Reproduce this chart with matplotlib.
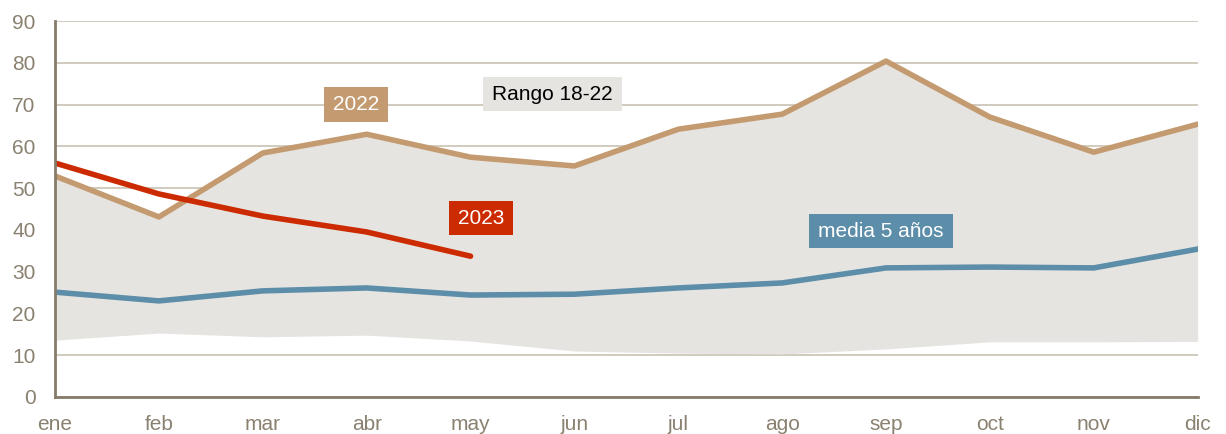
import matplotlib
matplotlib.use("Agg")
import matplotlib.pyplot as plt
from matplotlib.path import Path

plt.rcParams['font.family'] = ['Liberation Sans', 'DejaVu Sans']

months = ["ene", "feb", "mar", "abr", "may", "jun", "jul", "ago", "sep", "oct", "nov", "dic"]
range_low = [13.6, 15.3, 14.4, 14.8, 13.4, 11.0, 10.5, 10.3, 11.5, 13.2, 13.2, 13.3]
range_high = [52.9, 43.1, 58.4, 62.9, 57.4, 55.3, 64.1, 67.7, 80.4, 67.0, 58.6, 65.3]
y2022 = [52.9, 43.1, 58.4, 62.9, 57.4, 55.3, 64.1, 67.7, 80.4, 67.0, 58.6, 65.3]
y2023 = [56.0, 48.6, 43.3, 39.5, 33.7]
media5 = [25.1, 23.0, 25.4, 26.1, 24.4, 24.6, 26.1, 27.3, 30.9, 31.1, 30.9, 35.4]
yticks = [0, 10, 20, 30, 40, 50, 60, 70, 80, 90]

c_fill = "#E6E4E0"
c_2022 = "#C49B70"
c_2023 = "#CC2A00"
c_media = "#5C8DA9"
c_axis = "#857B69"
c_grid = "#C9C1B3"

fig = plt.figure(figsize=(12.26, 4.34), dpi=100)
ax = fig.add_axes([0.0449, 0.0853, 0.932, 0.8663])

x = list(range(len(months)))
ax.fill_between(x, range_low, range_high, color=c_fill, lw=0, zorder=2)
ax.plot(x, y2022, color=c_2022, lw=4, zorder=3)
ax.plot(x, media5, color=c_media, lw=4, zorder=3)
ax.plot(x[:len(y2023)], y2023, color=c_2023, lw=4, solid_capstyle="round", zorder=4)

ax.set_xlim(0, 11)
ax.set_ylim(0, 90)
ax.set_yticks(yticks)
ax.set_xticks(x)
ax.set_xticklabels(months)
ax.yaxis.grid(True, color=c_grid, lw=1.2, zorder=1)
ax.set_axisbelow(True)
for s in ["top", "right"]:
    ax.spines[s].set_visible(False)
for s in ["left", "bottom"]:
    ax.spines[s].set_color(c_axis)
    ax.spines[s].set_linewidth(2)
    ax.spines[s].set_zorder(5)
ax.tick_params(length=0, labelsize=15, labelcolor="#8A8170")
ax.tick_params(axis="y", pad=14)
ax.tick_params(axis="x", pad=13)


def label_box(padx, pady):
    # rectangular box with separate horizontal and vertical padding
    def style(x0, y0, width, height, mutation_size):
        px, py = padx * mutation_size, pady * mutation_size
        x1, y1 = x0 - px, y0 - py
        x2, y2 = x0 + width + px, y0 + height + py
        return Path([(x1, y1), (x2, y1), (x2, y2), (x1, y2), (x1, y1)], closed=True)
    return style


def tag(xv, yv, text, bg, fg):
    ax.text(xv, yv, text, ha="center", va="center", fontsize=15, color=fg, zorder=6,
            bbox=dict(boxstyle=label_box(0.43, 0.37), fc=bg, ec="none"))


tag(2.9, 70.0, "2022", c_2022, "white")
tag(4.79, 72.5, "Rango 18-22", c_fill, "black")
tag(4.1, 42.8, "2023", c_2023, "white")
tag(7.95, 39.7, "media 5 años", c_media, "white")

fig.savefig("out.png", dpi=100)
